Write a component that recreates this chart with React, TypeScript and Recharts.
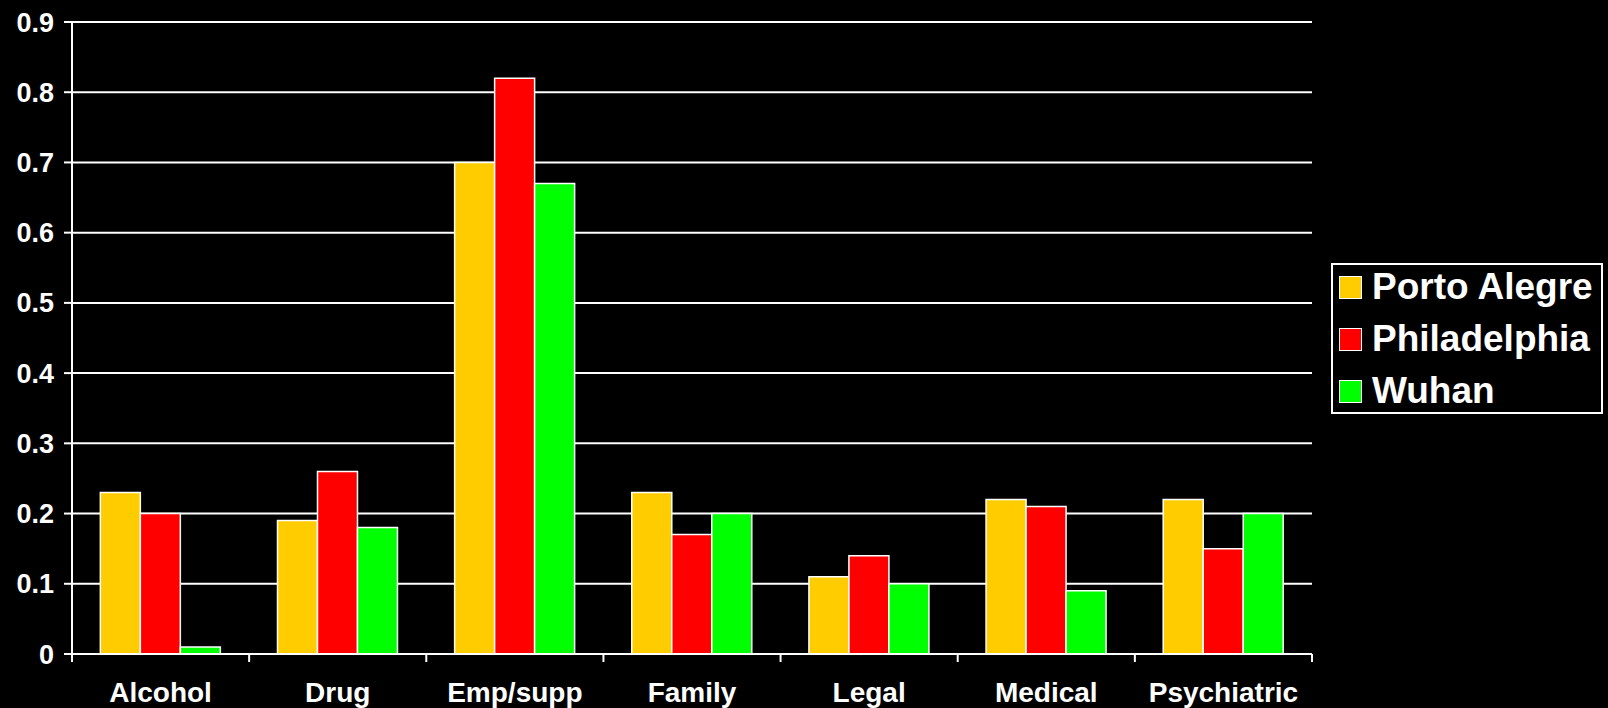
import React from "react";
import { BarChart, Bar, XAxis, YAxis, CartesianGrid } from "recharts";

const categories = [
  "Alcohol",
  "Drug",
  "Emp/supp",
  "Family",
  "Legal",
  "Medical",
  "Psychiatric",
];
const portoAlegre = [0.23, 0.19, 0.7, 0.23, 0.11, 0.22, 0.22];
const philadelphia = [0.2, 0.26, 0.82, 0.17, 0.14, 0.21, 0.15];
const wuhan = [0.01, 0.18, 0.67, 0.2, 0.1, 0.09, 0.2];
const yTicks = [0, 0.1, 0.2, 0.3, 0.4, 0.5, 0.6, 0.7, 0.8, 0.9];

const series = [
  { key: "Porto Alegre", values: portoAlegre, color: "#ffcc00" },
  { key: "Philadelphia", values: philadelphia, color: "#ff0000" },
  { key: "Wuhan", values: wuhan, color: "#00ff00" },
];

const data = categories.map((c, i) => {
  const row: Record<string, string | number> = { name: c };
  series.forEach((s) => {
    row[s.key] = s.values[i];
  });
  return row;
});

const FONT = "'Liberation Sans', Arial, sans-serif";

function CategoryTick(props: any) {
  const { x, y, payload, index } = props;
  const half = payload.offset ?? 0;
  const axisY = y - 28;
  const last = index === categories.length - 1;
  return (
    <g>
      <line x1={x - half} x2={x - half} y1={axisY} y2={axisY + 8} stroke="#fff" strokeWidth={2} />
      {last && (
        <line x1={x + half} x2={x + half} y1={axisY} y2={axisY + 8} stroke="#fff" strokeWidth={2} />
      )}
      <text
        x={x}
        y={y}
        dy="0.71em"
        textAnchor="middle"
        fill="#fff"
        fontSize={28}
        fontWeight="bold"
        fontFamily={FONT}
      >
        {payload.value}
      </text>
    </g>
  );
}

function LegendBox() {
  return (
    <div
      style={{
        position: "absolute",
        left: 1331,
        top: 263,
        border: "2px solid #fff",
        width: 272,
        height: 151,
        boxSizing: "border-box",
        padding: "0 0 0 6px",
        fontFamily: FONT,
        fontWeight: "bold",
        fontSize: 37,
        color: "#fff",
      }}
    >
      <div style={{ marginTop: -4 }}>
        {series.map((s) => (
          <div
            key={s.key}
            style={{ display: "flex", alignItems: "center", height: 52, lineHeight: "52px", whiteSpace: "nowrap" }}
          >
            <span
              style={{
                display: "inline-block",
                width: 21,
                height: 21,
                background: s.color,
                border: "1px solid #fff",
                marginRight: 10,
                flexShrink: 0,
              }}
            />
            {s.key}
          </div>
        ))}
      </div>
    </div>
  );
}

export default function App() {
  return (
    <div style={{ position: "absolute", left: 0, top: 0, width: 1608, height: 708, background: "#000" }}>
      <BarChart
        width={1608}
        height={708}
        data={data}
        margin={{ top: 22, right: 296, bottom: 0, left: 8 }}
        barCategoryGap="16%"
        barGap={0}
      >
        <CartesianGrid vertical={false} stroke="#fff" strokeWidth={2} />
        <XAxis
          dataKey="name"
          height={54}
          axisLine={{ stroke: "#fff", strokeWidth: 2 }}
          tickLine={false}
          tickSize={8}
          tickMargin={20}
          tick={<CategoryTick />}
          interval={0}
        />
        <YAxis
          width={64}
          domain={[0, 0.9]}
          ticks={yTicks}
          tickFormatter={(v: number) => String(v)}
          axisLine={{ stroke: "#fff", strokeWidth: 2 }}
          tickLine={{ stroke: "#fff", strokeWidth: 2 }}
          tickSize={8}
          tickMargin={10}
          tick={{ fill: "#fff", fontSize: 27, fontWeight: "bold", fontFamily: FONT }}
        />
        {series.map((s) => (
          <Bar
            key={s.key}
            dataKey={s.key}
            fill={s.color}
            stroke="#fff"
            strokeWidth={1.5}
            isAnimationActive={false}
          />
        ))}
      </BarChart>
      <LegendBox />
    </div>
  );
}
